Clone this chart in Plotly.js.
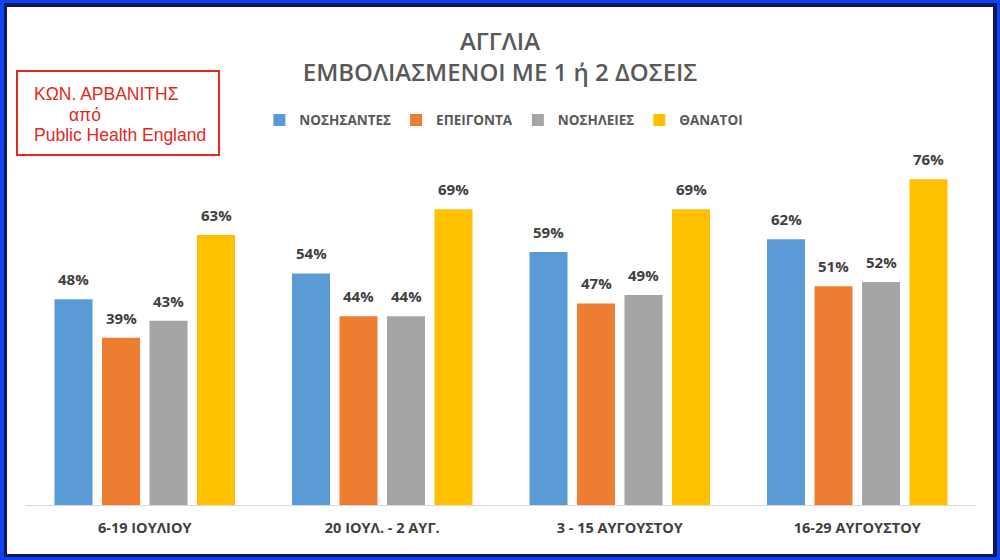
<!DOCTYPE html>
<html>
<head>
<meta charset="utf-8">
<script src="https://cdn.plot.ly/plotly-3.0.1.min.js"></script>
<style>
  html, body { margin:0; padding:0; }
  #outer { position:relative; width:1000px; height:560px; background:#0f42f2; overflow:hidden; }
  #navy { position:absolute; left:4px; top:3px; width:993px; height:554px; background:#0c1a5c; }
  #chart { position:absolute; left:7px; top:7px; width:986px; height:547px; background:#ffffff; }
</style>
</head>
<body>
<div id="outer"><div id="navy"></div><div id="chart"></div></div>
<script>
const categories = ['6-19 ΙΟΥΛΙΟΥ', '20 ΙΟΥΛ. - 2 ΑΥΓ.', '3 - 15 ΑΥΓΟΥΣΤΟΥ', '16-29 ΑΥΓΟΥΣΤΟΥ'];
const seriesNames = ['ΝΟΣΗΣΑΝΤΕΣ', 'ΕΠΕΙΓΟΝΤΑ', 'ΝΟΣΗΛΕΙΕΣ', 'ΘΑΝΑΤΟΙ'];
const nosisantes = [48, 54, 59, 62];
const epeigonta = [39, 44, 47, 51];
const nosileies = [43, 44, 49, 52];
const thanatoi = [63, 69, 69, 76];
const seriesValues = [nosisantes, epeigonta, nosileies, thanatoi];
const colors = ['#5b9bd5', '#ed7d31', '#a5a5a5', '#ffc000'];

const traces = seriesValues.map((vals, i) => ({
  type: 'bar',
  name: seriesNames[i],
  x: categories,
  y: vals,
  marker: { color: colors[i] },
  hoverinfo: 'skip'
}));

const barStep = 47.5;
const annotations = [];
seriesValues.forEach((vals, i) => {
  vals.forEach((v, j) => {
    annotations.push({
      x: categories[j], y: v, xref: 'x', yref: 'y',
      text: v + '%', showarrow: false,
      xshift: (i - 1.5) * barStep, yshift: 20, yanchor: 'middle',
      font: { family: 'Open Sans', size: 15, color: '#404040', weight: 'bold' }
    });
  });
});

const boxFont = { family: 'Liberation Sans, Arial', size: 17.5, color: '#e5281c' };
annotations.push(
  { xref:'paper', yref:'paper', x:0.0064, y:1.1983, xanchor:'left', yanchor:'middle', showarrow:false, text:'ΚΩΝ. ΑΡΒΑΝΙΤΗΣ', font: boxFont },
  { xref:'paper', yref:'paper', x:0.0432, y:1.137, xanchor:'left', yanchor:'middle', showarrow:false, text:'από', font: boxFont },
  { xref:'paper', yref:'paper', x:0.0064, y:1.0787, xanchor:'left', yanchor:'middle', showarrow:false, text:'Public Health England', font: boxFont }
);

const layout = {
  width: 986, height: 547,
  margin: { l: 19, r: 17, t: 155, b: 49 },
  paper_bgcolor: '#ffffff', plot_bgcolor: '#ffffff',
  barmode: 'group', bargap: 0.2, bargroupgap: 0.2,
  title: {
    text: 'ΑΓΓΛΙΑ<br>ΕΜΒΟΛΙΑΣΜΕΝΟΙ ΜΕ 1 ή 2 ΔΟΣΕΙΣ',
    font: { family: 'Open Sans', size: 24, color: '#595959', weight: 600 },
    x: 0.5, xanchor: 'center', xref: 'container',
    y: 0.922, yanchor: 'top', yref: 'container'
  },
  showlegend: true,
  legend: {
    orientation: 'h', x: 0.503, xanchor: 'center', y: 1.122, yanchor: 'middle',
    font: { family: 'Open Sans', size: 13.5, color: '#595959', weight: 'bold' },
    traceorder: 'normal', bgcolor: 'rgba(0,0,0,0)'
  },
  xaxis: {
    type: 'category',
    showline: true, linecolor: '#d9d9d9', linewidth: 1,
    showgrid: false, zeroline: false, ticks: '',
    ticklabelstandoff: 10,
    tickfont: { family: 'Open Sans', size: 14.5, color: '#404040', weight: 'bold' },
    fixedrange: true
  },
  yaxis: {
    range: [0, 80], showgrid: false, zeroline: false,
    showticklabels: false, showline: false, ticks: '', fixedrange: true
  },
  shapes: [{
    type: 'rect', xref: 'paper', yref: 'paper',
    x0: -0.0095, x1: 0.2032, y0: 1.0204, y1: 1.2653,
    line: { color: '#e5281c', width: 2 }, fillcolor: 'rgba(0,0,0,0)'
  }],
  annotations: annotations
};

Plotly.newPlot('chart', traces, layout, { displayModeBar: false, staticPlot: true });
</script>
</body>
</html>
